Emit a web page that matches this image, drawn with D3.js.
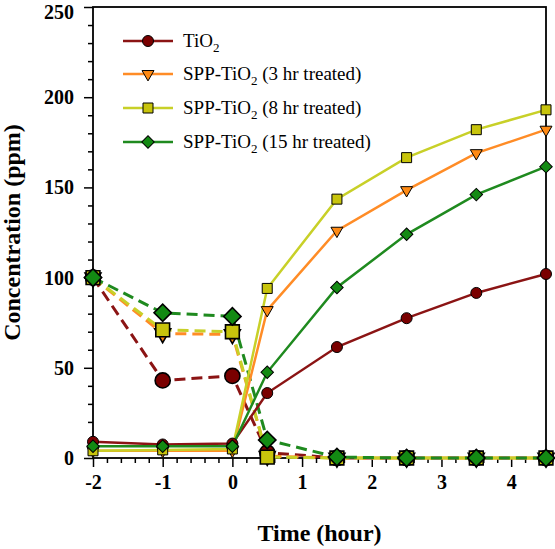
<!DOCTYPE html>
<html><head><meta charset="utf-8">
<script src="https://cdn.jsdelivr.net/npm/d3@7"></script>
<style>body{margin:0;background:#fff}svg{display:block}text{font-family:"Liberation Serif","Times New Roman",serif}</style>
</head><body>
<svg id="c" width="555" height="549"></svg>
<script>
const times = [-2, -1, 0, 0.5, 1.5, 2.5, 3.5, 4.5];
const seriesNames = ["TiO2", "SPP-TiO2 (3 hr treated)", "SPP-TiO2 (8 hr treated)", "SPP-TiO2 (15 hr treated)"];
// rising (solid) curves
const tio2Rise = [9, 7.5, 8, 36, 61.5, 77.5, 91.5, 102];
const hr3Rise  = [4, 4, 4, 82, 126, 148.5, 169, 182];
const hr8Rise  = [4, 4.5, 5, 94, 143.5, 166.5, 182, 193];
const hr15Rise = [6.5, 6.5, 6.5, 47.5, 94.5, 124, 146, 161.5];
// falling (dashed) curves
const tio2Fall = [100, 43, 45.5, 3, 0, 0, 0, 0];
const hr3Fall  = [100, 69, 68.5, 1, 0, 0, 0, 0];
const hr8Fall  = [100, 71, 70, 0.5, 0, 0, 0, 0];
const hr15Fall = [100, 80.5, 78.5, 10, 0.5, 0, 0, 0];
const xTicks = [-2, -1, 0, 1, 2, 3, 4];
const yTicks = [0, 50, 100, 150, 200, 250];

const styles = [
  {line:"#8b1414", fill:"#7a0000", shape:"circle"},
  {line:"#ff8c26", fill:"#ff8a14", shape:"triangle"},
  {line:"#c8d028", fill:"#c8c40c", shape:"square"},
  {line:"#1f8a1f", fill:"#138a13", shape:"diamond"}
];
const rise = [tio2Rise, hr3Rise, hr8Rise, hr15Rise];
const fall = [tio2Fall, hr3Fall, hr8Fall, hr15Fall];

const svg = d3.select("#c");
const L = 93, R = 546, T = 7, B = 458;
const x = d3.scaleLinear().domain([-2, 4.5]).range([L, R]);
const y = d3.scaleLinear().domain([0, 250]).range([B, T]);

function symPath(shape, big) {
  const s = big ? {circle:180, triangle:110, square:190, diamond:150} : {circle:95, triangle:62, square:100, diamond:78};
  const t = {circle:d3.symbolCircle, triangle:d3.symbolTriangle, square:d3.symbolSquare, diamond:d3.symbolSquare}[shape];
  return d3.symbol().type(t).size(s[shape])();
}
function symTransform(shape, px, py) {
  if (shape === "triangle") return `translate(${px},${py}) rotate(180)`;
  if (shape === "diamond") return `translate(${px},${py}) rotate(45)`;
  return `translate(${px},${py})`;
}

const line = d3.line().x((d,i)=>x(times[i])).y(d=>y(d));

// axes
const xAxis = d3.axisBottom(x).tickValues(xTicks).tickSize(9).tickPadding(8).tickFormat(d=>String(d));
const xMinor = d3.axisBottom(x).tickValues(d3.range(-2, 4.5, 0.2).map(v=>+v.toFixed(1)).filter(v=>Math.abs(v-Math.round(v))>1e-6)).tickSize(5).tickFormat("");
const yAxis = d3.axisLeft(y).tickValues(yTicks).tickSize(9).tickPadding(10).tickFormat(d=>String(d));
const yMinor = d3.axisLeft(y).tickValues(d3.range(0, 251, 10).filter(v=>v%50!==0)).tickSize(5).tickFormat("");

function styleAxis(g){
  g.selectAll("path.domain").remove();
  g.selectAll("line").attr("stroke","#000").attr("stroke-width",1.5);
  g.selectAll("text").attr("font-size",20).attr("font-weight","bold").attr("fill","#000")
   .style("font-family",'"Liberation Serif","Times New Roman",serif');
}
svg.append("g").attr("transform",`translate(0,${B})`).call(xMinor).call(styleAxis);
svg.append("g").attr("transform",`translate(0,${B})`).call(xAxis).call(styleAxis);
svg.append("g").attr("transform",`translate(${L},0)`).call(yMinor).call(styleAxis);
const yg = svg.append("g").attr("transform",`translate(${L},0)`).call(yAxis).call(styleAxis);
yg.selectAll(".tick").filter(d=>d===250).select("text").attr("dy","0.55em");

// frame
svg.append("rect").attr("x",L).attr("y",T).attr("width",R-L).attr("height",B-T)
  .attr("fill","none").attr("stroke","#000").attr("stroke-width",1.8);

// lines
const plot = svg.append("g");
fall.forEach((vals,k)=>{
  plot.append("path").attr("d",line(vals)).attr("fill","none").attr("stroke",styles[k].line)
    .attr("stroke-width",3).attr("stroke-dasharray","11,6");
});
rise.forEach((vals,k)=>{
  plot.append("path").attr("d",line(vals)).attr("fill","none").attr("stroke",styles[k].line)
    .attr("stroke-width",2.5);
});
// markers
fall.forEach((vals,k)=>{
  vals.forEach((v,i)=>{
    plot.append("path").attr("d",symPath(styles[k].shape,true))
      .attr("transform",symTransform(styles[k].shape,x(times[i]),y(v)))
      .attr("fill",styles[k].fill).attr("stroke","#000").attr("stroke-width",1.6);
  });
});
rise.forEach((vals,k)=>{
  vals.forEach((v,i)=>{
    plot.append("path").attr("d",symPath(styles[k].shape,false))
      .attr("transform",symTransform(styles[k].shape,x(times[i]),y(v)))
      .attr("fill",styles[k].fill).attr("stroke","#000").attr("stroke-width",1);
  });
});

// axis titles
svg.append("text").attr("x",(L+R)/2).attr("y",541).attr("text-anchor","middle")
  .attr("font-size",24).attr("font-weight","bold").text("Time (hour)");
svg.append("text").attr("transform",`translate(20,${(T+B)/2}) rotate(-90)`).attr("text-anchor","middle")
  .attr("font-size",24).attr("font-weight","bold").text("Concentration (ppm)");

// legend
const legY = [41, 74, 108, 142];
seriesNames.forEach((name,k)=>{
  const g = svg.append("g").attr("transform",`translate(0,${legY[k]})`);
  g.append("line").attr("x1",123).attr("x2",173).attr("y1",0).attr("y2",0)
    .attr("stroke",styles[k].line).attr("stroke-width",2.5);
  g.append("path").attr("d",symPath(styles[k].shape,false))
    .attr("transform",symTransform(styles[k].shape,148,0))
    .attr("fill",styles[k].fill).attr("stroke","#000").attr("stroke-width",1);
  const t = g.append("text").attr("x",183).attr("y",6).attr("font-size",19).attr("fill","#000");
  const idx = name.indexOf("TiO2");
  t.append("tspan").text(name.slice(0, idx+3));
  t.append("tspan").attr("font-size",13).attr("dy",5).text("2");
  t.append("tspan").attr("dy",-5).text(name.slice(idx+4));
});
</script>
</body></html>
